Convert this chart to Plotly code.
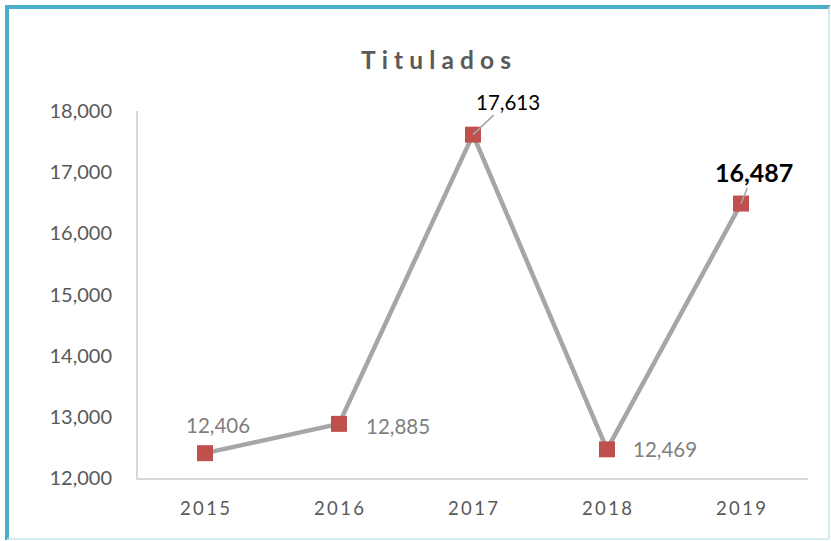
import plotly.graph_objects as go

years = ["2015", "2016", "2017", "2018", "2019"]
titulados = [12406, 12885, 17613, 12469, 16487]
y_ticks = [12000, 13000, 14000, 15000, 16000, 17000, 18000]
title_text = "Titulados"

# styling per label (offsets in px)
label_style = [
    dict(xshift=13, yshift=28, arrow=False, bold=False),
    dict(xshift=59, yshift=-2, arrow=False, bold=False),
    dict(ax=35, ay=-33, arrow=True, bold=False),
    dict(xshift=58, yshift=0, arrow=False, bold=False),
    dict(ax=13, ay=-32, arrow=True, bold=True),
]

FONT = "Lato"
thin = "\u2009"
ticktext = [thin.join(list(y)) for y in years]

fig = go.Figure()
fig.add_trace(go.Scatter(
    x=years, y=titulados, mode="lines+markers",
    line=dict(color="#A6A6A6", width=4.5),
    marker=dict(symbol="square", size=16, color="#C0504D"),
    hoverinfo="skip", showlegend=False,
))

for i, (yr, v, st) in enumerate(zip(years, titulados, label_style)):
    txt = f"{v:,}"
    if st["bold"]:
        font = dict(family=FONT, size=25, color="#000000")
        txt = f"<b>{txt}</b>"
    elif st["arrow"]:
        font = dict(family=FONT, size=20.5, color="#000000")
    else:
        font = dict(family=FONT, size=20.5, color="#7F7F7F")
    if st["arrow"]:
        fig.add_annotation(x=i, y=v, text=txt, showarrow=True, arrowhead=0,
                           arrowwidth=1.6, arrowcolor="#A6A6A6", ax=st["ax"], ay=st["ay"],
                           standoff=0, startstandoff=0, font=font)
    else:
        fig.add_annotation(x=i, y=v, text=txt, showarrow=False,
                           xshift=st["xshift"], yshift=st["yshift"], font=font)

L, R, T, B = 138, 23, 111, 63
W, H = 831, 541
pw, ph = W - L - R, H - T - B
def px(x): return (x - L) / pw
def py(y): return (H - B - y) / ph

shapes = [
    dict(type="line", xref="paper", yref="paper", x0=px(5), x1=px(830), y0=py(7), y1=py(7),
         line=dict(color="#4BACC6", width=4)),
    dict(type="line", xref="paper", yref="paper", x0=px(7), x1=px(7), y0=py(5), y1=py(540),
         line=dict(color="#4BACC6", width=4)),
    dict(type="line", xref="paper", yref="paper", x0=px(829), x1=px(829), y0=py(7), y1=py(539),
         line=dict(color="#C5E3EC", width=1.5)),
    dict(type="line", xref="paper", yref="paper", x0=px(7), x1=px(829), y0=py(539), y1=py(539),
         line=dict(color="#C5E3EC", width=1.5)),
]

fig.update_layout(
    width=W, height=H,
    margin=dict(l=L, r=R, t=T, b=B),
    paper_bgcolor="white", plot_bgcolor="white",
    title=dict(text="<b>" + (thin * 2).join(list(title_text)) + "</b>", x=436 / W, xanchor="center",
               y=1 - 60 / H, yanchor="middle",
               font=dict(family=FONT, size=24.5, color="#595959")),
    xaxis=dict(type="category", range=[-0.5, 4.5], tickvals=years, ticktext=ticktext,
               showgrid=False, showline=True, linecolor="#D9D9D9", linewidth=2,
               ticks="", tickfont=dict(family=FONT, size=18.5, color="#595959"), ticklabelstandoff=13),
    yaxis=dict(range=[12000, 18000], tickvals=y_ticks, tickformat=",d",
               showgrid=False, showline=True, linecolor="#D9D9D9", linewidth=2,
               ticks="", tickfont=dict(family=FONT, size=20, color="#595959"), ticklabelstandoff=20,
               zeroline=False),
    shapes=shapes,
)

fig.write_html("out.html")
